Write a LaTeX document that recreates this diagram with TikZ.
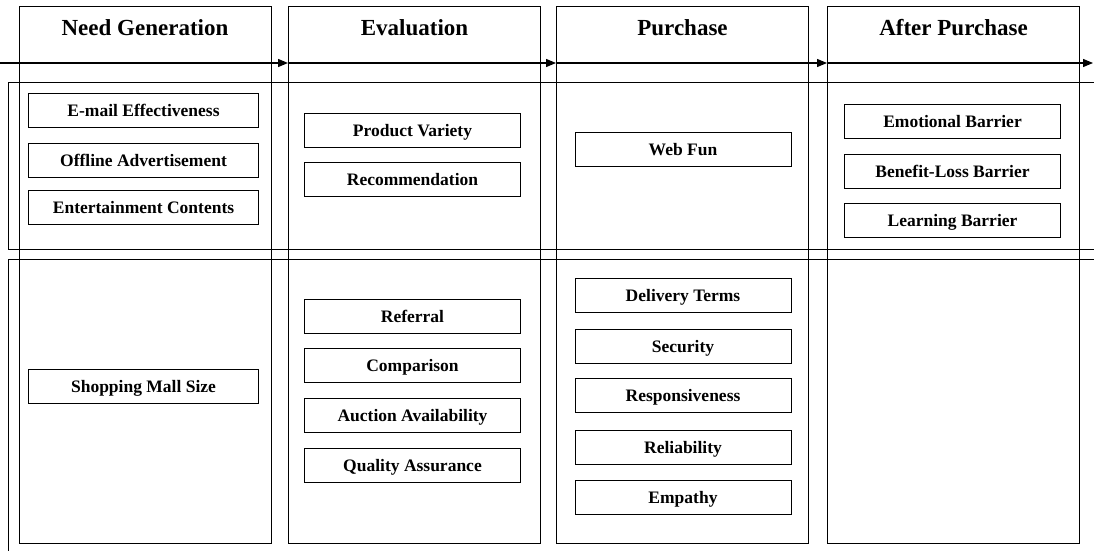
\documentclass[tikz,border=0pt]{standalone}
\usepackage{fontspec}
\setmainfont{Liberation Serif}
\usetikzlibrary{arrows.meta}
\tikzset{
  stage/.style={draw,line width=1pt,minimum width=252pt,minimum height=536pt,inner sep=0pt},
  band/.style={draw,line width=1pt,anchor=north west,minimum width=1110pt,inner sep=0pt},
  factor/.style={draw,line width=0.9pt,minimum width=216pt,minimum height=34pt,inner sep=1pt,text height=14pt,text depth=2pt,font=\fontsize{17.5}{20}\selectfont\bfseries},
  title/.style={font=\fontsize{23}{26}\selectfont\bfseries},
  flow/.style={line width=1.2pt,-{Triangle[length=10pt,width=8pt]}}
}
\begin{document}
\begin{tikzpicture}[x=1pt,y=-1pt]
  \clip (0,0) rectangle (1094,551);
  \fill[white] (0,0) rectangle (1094,551);
  \node[band,minimum height=167pt] (upper) at (8,82) {};
  \node[band,minimum height=300pt] (lower) at (8,259) {};
  \foreach \x/\t [count=\i] in {145/Need Generation,414.5/Evaluation,682.5/Purchase,953.5/After Purchase} {
    \node[stage] (s\i) at (\x,275) {};
    \node[title] (t\i) at (\x,28) {\t};
  }
  % process line along the top
  \coordinate (a0) at (0,63);
  \coordinate (a4) at (1093,63);
  \draw[flow] (a0) -- (a0 -| s2.west);
  \draw[flow] (a0 -| s2.west) -- (a0 -| s3.west);
  \draw[flow] (a0 -| s3.west) -- (a0 -| s4.west);
  \draw[flow] (a0 -| s4.west) -- (a4);
  % factors in each stage
  \foreach \y/\t [count=\i] in {110/E-mail Effectiveness,160/Offline Advertisement,207.5/Entertainment Contents,386/Shopping Mall Size}
    \node[factor,minimum width=230pt] (n\i) at (143.5,\y) {\t};
  \foreach \y/\t [count=\i] in {130/Product Variety,179.5/Recommendation,316/Referral,365/Comparison,415/Auction Availability,465/Quality Assurance}
    \node[factor] (e\i) at (412.5,\y) {\t};
  \foreach \y/\t [count=\i] in {149.5/Web Fun,295/Delivery Terms,346/Security,395.5/Responsiveness,447/Reliability,497/Empathy}
    \node[factor] (p\i) at (683,\y) {\t};
  \foreach \y/\t [count=\i] in {121/Emotional Barrier,171.5/Benefit-Loss Barrier,220.5/Learning Barrier}
    \node[factor] (b\i) at (952.5,\y) {\t};
\end{tikzpicture}
\end{document}
